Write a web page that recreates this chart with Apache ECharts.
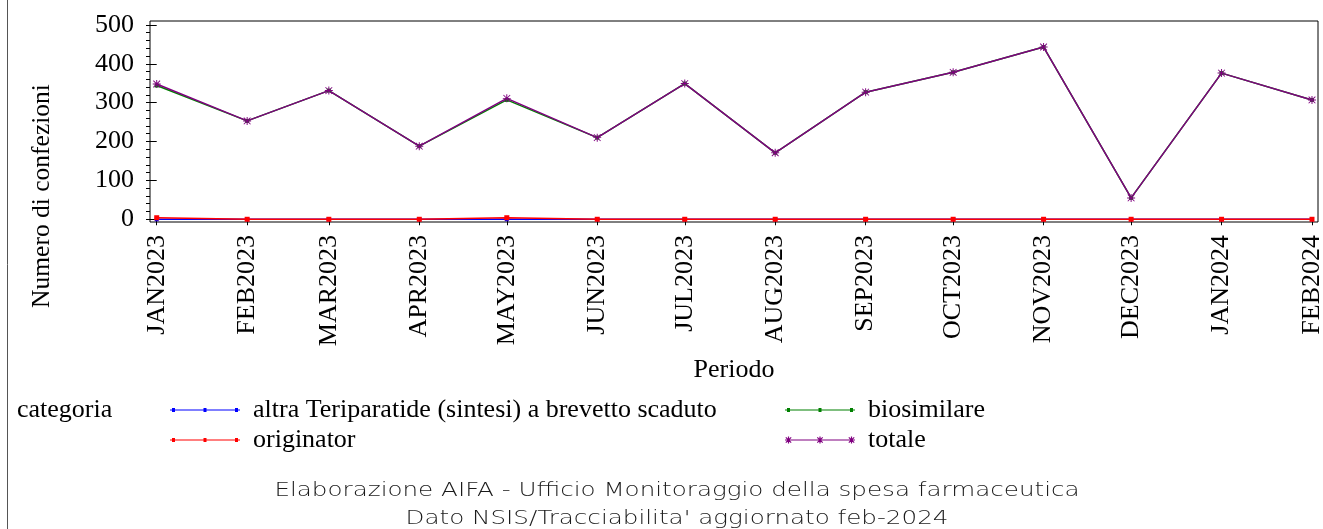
<!DOCTYPE html>
<html>
<head>
<meta charset="utf-8">
<script src="https://cdn.jsdelivr.net/npm/echarts/dist/echarts.min.js"></script>
<style>
  html, body { margin: 0; padding: 0; background: #fff; }
  #grafico { width: 1323px; height: 529px; }
</style>
</head>
<body>
<div id="grafico"></div>
<script>
// periodi (primo giorno del mese) ed etichette dell'asse
const mesi = ['2023-01-01', '2023-02-01', '2023-03-01', '2023-04-01', '2023-05-01', '2023-06-01', '2023-07-01',
  '2023-08-01', '2023-09-01', '2023-10-01', '2023-11-01', '2023-12-01', '2024-01-01', '2024-02-01']
const etichette = ['JAN2023', 'FEB2023', 'MAR2023', 'APR2023', 'MAY2023', 'JUN2023', 'JUL2023',
  'AUG2023', 'SEP2023', 'OCT2023', 'NOV2023', 'DEC2023', 'JAN2024', 'FEB2024']

// numero di confezioni per categoria
const altra = [0, 0, 0, 0, 0, 0, 0, 0, 0, 0, 0, 0, 0, 0]
const biosimilare = [344, 253, 331, 188, 307, 210, 349, 171, 327, 378, 443, 55, 376, 307]
const originator = [4, 0, 0, 0, 4, 0, 0, 0, 0, 0, 0, 0, 0, 0]
const totale = [348, 253, 331, 188, 311, 210, 349, 171, 327, 378, 443, 55, 376, 307]

// tacche asse y
const yTacche = [0, 100, 200, 300, 400, 500]
const yTaccheMinori = [0, 20, 40, 60, 80, 100, 120, 140, 160, 180, 200, 220, 240, 260, 280, 300,
  320, 340, 360, 380, 400, 420, 440, 460, 480, 500]

const serif = '"Liberation Serif", "Times New Roman", serif'
const giorno = 24 * 3600 * 1000
// asse x in giorni dal primo periodo (le distanze seguono la lunghezza dei mesi)
const t0 = Date.UTC(2023, 0, 1)
const tempi = mesi.map(m => (Date.UTC(+m.slice(0, 4), +m.slice(5, 7) - 1, 1) - t0) / giorno)

// icone legenda: linea con tre marcatori
function asterisco(cx, cy, r) {
  return `M${cx - 0.6} ${cy - r}H${cx + 0.6}V${cy + r}H${cx - 0.6}Z` +
    `M${cx - r} ${cy - 0.6}H${cx + r}V${cy + 0.6}H${cx - r}Z` +
    `M${cx - r + 0.4} ${cy - r + 1.2}L${cx - r + 1.2} ${cy - r + 0.4}L${cx + r - 0.4} ${cy + r - 1.2}L${cx + r - 1.2} ${cy + r - 0.4}Z` +
    `M${cx + r - 1.2} ${cy - r + 0.4}L${cx + r - 0.4} ${cy - r + 1.2}L${cx - r + 1.2} ${cy + r - 0.4}L${cx - r + 0.4} ${cy + r - 1.2}Z`
}
const iconaPunti = 'path://M0 3.4H70V4.6H0Z M2 2H5V6H2Z M33.5 2H36.5V6H33.5Z M65 2H68V6H65Z'
const iconaStelle = 'path://M0 3.4H70V4.6H0Z' + asterisco(3.5, 4, 3.5) + asterisco(35, 4, 3.5) + asterisco(66.5, 4, 3.5)
const simboloStella = 'path://' + asterisco(5, 5, 5)

function serie(nome, valori, colore, simbolo, dim) {
  return {
    name: nome,
    type: 'line',
    data: tempi.map((t, i) => [t, valori[i]]),
    symbol: simbolo,
    symbolSize: dim,
    showSymbol: true,
    lineStyle: { width: 1.5, color: colore },
    itemStyle: { color: colore },
    emphasis: { disabled: true }
  }
}

const legendaTesto = { fontSize: 26, fontFamily: serif, color: '#000', padding: [0, 0, 0, 8] }
const piede = '200 20px "DejaVu Sans"'

const chart = echarts.init(document.getElementById('grafico'))
chart.setOption({
  animation: false,
  backgroundColor: '#fff',
  grid: {
    left: 150, right: 5, top: 21, bottom: 307,
    show: true, borderColor: '#000', borderWidth: 1,
    containLabel: false, outerBoundsMode: 'none'
  },
  xAxis: {
    type: 'value',
    min: tempi[0] - 2.3,
    max: tempi[tempi.length - 1] + 2.06,
    axisLine: { show: false },
    splitLine: { show: false },
    axisTick: { show: true, length: 6, customValues: tempi, lineStyle: { color: '#000' } },
    axisLabel: {
      customValues: tempi,
      rotate: 90,
      margin: 13,
      fontSize: 26,
      fontFamily: serif,
      color: '#000',
      formatter: v => etichette[tempi.indexOf(v)] || ''
    },
    name: 'Periodo',
    nameLocation: 'middle',
    nameGap: 135,
    nameTextStyle: { fontSize: 26, fontFamily: serif, color: '#000' }
  },
  yAxis: [
    {
      type: 'value', min: -7, max: 510, position: 'left',
      axisLine: { show: false },
      splitLine: { show: false },
      axisTick: { show: true, length: 7, customValues: yTacche, lineStyle: { color: '#000' } },
      axisLabel: { customValues: yTacche, margin: 16, fontSize: 26, fontFamily: serif, color: '#000' }
    },
    {
      type: 'value', min: -7, max: 510, position: 'left',
      axisLine: { show: false },
      splitLine: { show: false },
      axisLabel: { show: false },
      axisTick: { show: true, length: 4, customValues: yTaccheMinori, lineStyle: { color: '#000' } }
    }
  ],
  legend: [
    {
      left: 165, top: 392, orient: 'vertical', itemGap: 4,
      itemWidth: 70, itemHeight: 8, selectedMode: false,
      textStyle: legendaTesto,
      data: [
        { name: 'altra Teriparatide (sintesi) a brevetto scaduto', icon: iconaPunti },
        { name: 'originator', icon: iconaPunti }
      ]
    },
    {
      left: 780, top: 392, orient: 'vertical', itemGap: 4,
      itemWidth: 70, itemHeight: 8, selectedMode: false,
      textStyle: legendaTesto,
      data: [
        { name: 'biosimilare', icon: iconaPunti },
        { name: 'totale', icon: iconaStelle }
      ]
    }
  ],
  graphic: [
    {
      type: 'line', shape: { x1: 7.5, y1: 0, x2: 7.5, y2: 529 },
      style: { stroke: '#555', lineWidth: 1 }
    },
    {
      type: 'text', x: 42, y: 196, rotation: Math.PI / 2,
      style: { text: 'Numero di confezioni', font: '25.5px ' + serif, fill: '#000', align: 'center', verticalAlign: 'middle' }
    },
    {
      type: 'text', left: 17, top: 397,
      style: { text: 'categoria', font: '26px ' + serif, fill: '#000' }
    },
    {
      type: 'text', x: 677, y: 491, scaleX: 1.23,
      style: { text: 'Elaborazione AIFA - Ufficio Monitoraggio della spesa farmaceutica', font: piede, fill: '#1a1a1a', align: 'center', verticalAlign: 'middle' }
    },
    {
      type: 'text', x: 677, y: 519, scaleX: 1.23,
      style: { text: "Dato NSIS/Tracciabilita' aggiornato feb-2024", font: piede, fill: '#1a1a1a', align: 'center', verticalAlign: 'middle' }
    }
  ],
  series: [
    serie('altra Teriparatide (sintesi) a brevetto scaduto', altra, '#0000ff', 'rect', 4),
    serie('biosimilare', biosimilare, '#008000', 'rect', 4),
    serie('originator', originator, '#ff0000', 'rect', 5),
    serie('totale', totale, '#800080', simboloStella, 8)
  ]
})
</script>
</body>
</html>
